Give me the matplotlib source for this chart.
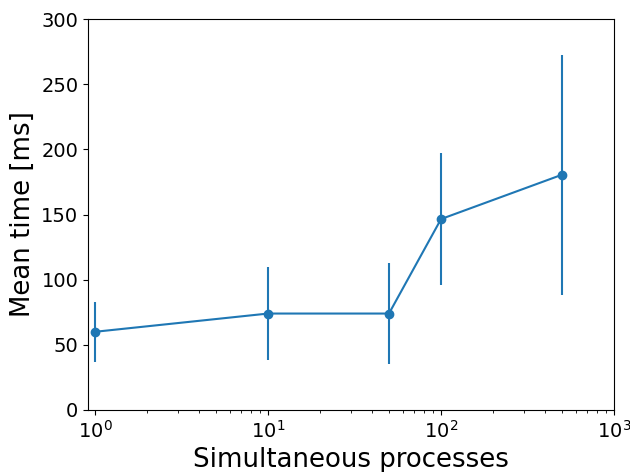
import matplotlib
matplotlib.use('Agg')
import matplotlib.pyplot as plt

# Данные: число одновременных процессов и среднее время
processes = [1, 10, 50, 100, 500]
mean_time = [60, 74, 74, 146.5, 180.5]
std_time = [23, 36, 39, 50.5, 92]

fig, ax = plt.subplots(figsize=(6.3, 4.72), dpi=100)

ax.errorbar(processes, mean_time, yerr=std_time, fmt='-o', color='#1f77b4')

ax.set_xscale('log')
ax.set_xlim(0.91, 1000)
ax.set_ylim(0, 300)
ax.set_xlabel('Simultaneous processes', fontsize=18.7)
ax.set_ylabel('Mean time [ms]', fontsize=18.7)
ax.tick_params(labelsize=14)

fig.subplots_adjust(left=0.1397, right=0.9746, top=0.9597, bottom=0.1314)
plt.savefig('out.png')
